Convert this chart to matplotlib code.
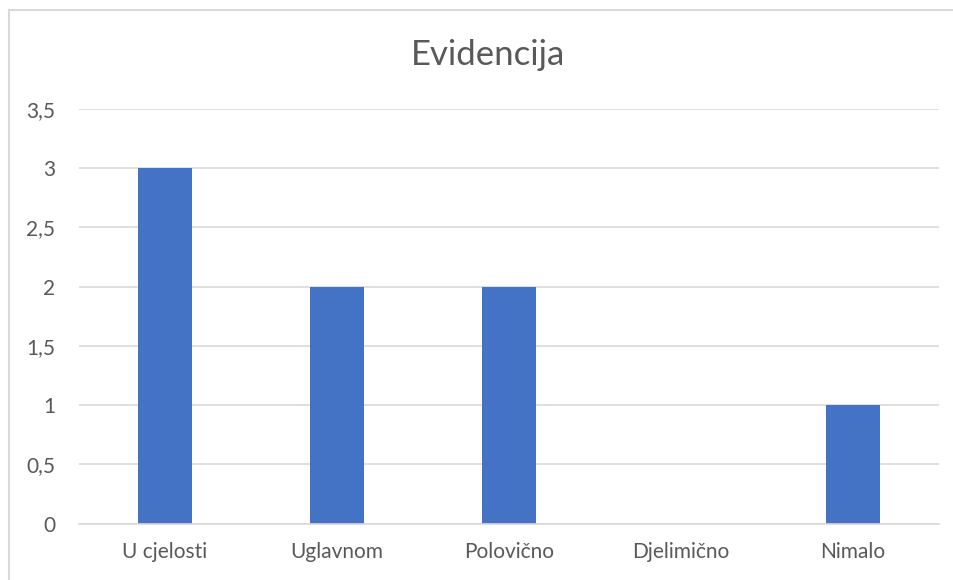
import matplotlib.pyplot as plt
from matplotlib.lines import Line2D

categories = ["U cjelosti", "Uglavnom", "Polovično", "Djelimično", "Nimalo"]
values = [3, 2, 2, 0, 1]
yticks = [0, 0.5, 1, 1.5, 2, 2.5, 3, 3.5]
ytick_labels = ["0", "0,5", "1", "1,5", "2", "2,5", "3", "3,5"]

plt.rcParams['font.family'] = ['Lato', 'DejaVu Sans']
txt = '#595959'
grid = '#d9d9d9'

W, H = 954, 580
fig = plt.figure(figsize=(W / 100, H / 100), dpi=100)
ax = fig.add_axes([78.7 / W, 1 - 523.5 / H, (939 - 78.7) / W, (523.5 - 109) / H])

x = range(len(categories))
ax.bar(x, values, width=0.315, color='#4472c4', zorder=3)

ax.set_xlim(-0.5, len(categories) - 0.5)
ax.set_ylim(0, 3.5)
ax.set_yticks(yticks)
ax.set_yticklabels(ytick_labels)
ax.set_xticks(list(x))
ax.set_xticklabels(categories)
ax.tick_params(axis='y', length=0, pad=17, labelsize=15, labelcolor=txt)
ax.tick_params(axis='x', length=0, pad=13, labelsize=15, labelcolor=txt)
ax.yaxis.grid(True, color=grid, linewidth=1.2, zorder=0)
for s in ['top', 'left', 'right']:
    ax.spines[s].set_visible(False)
ax.spines['bottom'].set_color(grid)
ax.spines['bottom'].set_linewidth(1.2)
ax.spines['bottom'].set_zorder(4)

fig.text(488 / W, 1 - 55 / H, "Evidencija", ha='center', va='center',
         fontsize=25, color=txt)

# chart area border (only left and top edges visible)
fig.add_artist(Line2D([9 / W, 9 / W], [0, 1 - 10 / H], color=grid, linewidth=1.5))
fig.add_artist(Line2D([9 / W, 1], [1 - 10 / H, 1 - 10 / H], color=grid, linewidth=1.5))

fig.savefig('out.png', dpi=100)
